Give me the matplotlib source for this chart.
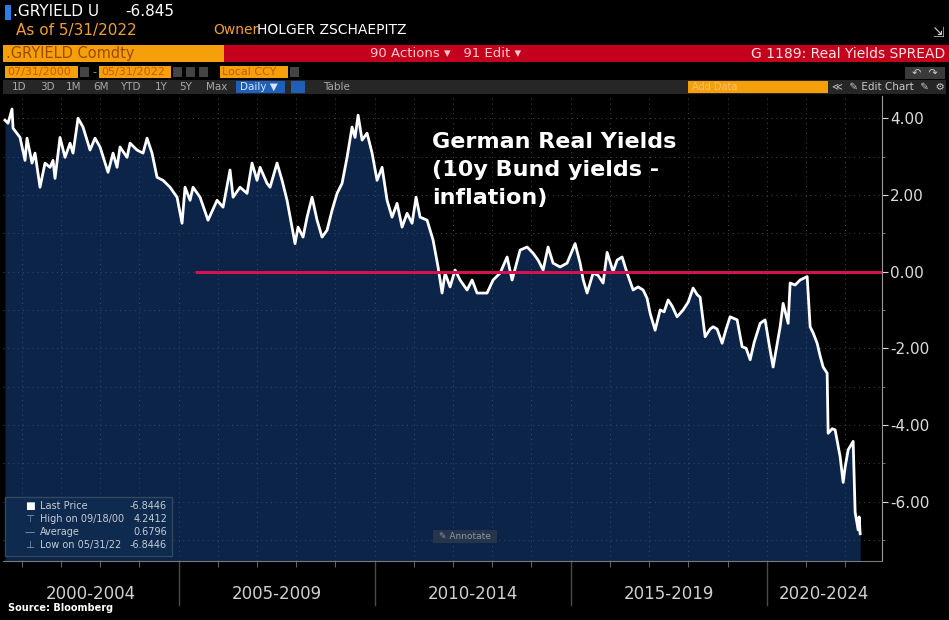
import matplotlib
matplotlib.use("Agg")
import matplotlib.pyplot as plt
import matplotlib.transforms as mtransforms
from matplotlib.patches import Rectangle

W, H = 949, 620

# German real yields (fractional year, %)
years = [2000.571, 2000.648, 2000.750, 2000.776, 2000.954, 2001.082, 2001.133, 2001.260, 2001.337, 2001.464,
         2001.592, 2001.719, 2001.796, 2001.847, 2001.974, 2002.102, 2002.230, 2002.306, 2002.434, 2002.561,
         2002.740, 2002.867, 2002.995, 2003.199, 2003.327, 2003.429, 2003.505, 2003.684, 2003.760, 2003.939,
         2004.092, 2004.194, 2004.321, 2004.449, 2004.602, 2004.781, 2004.959, 2005.087, 2005.163, 2005.291,
         2005.367, 2005.546, 2005.750, 2005.980, 2006.133, 2006.311, 2006.388, 2006.566, 2006.745, 2006.872,
         2007.000, 2007.077, 2007.255, 2007.332, 2007.510, 2007.638, 2007.765, 2007.893, 2007.969, 2008.046,
         2008.173, 2008.276, 2008.403, 2008.531, 2008.658, 2008.786, 2008.913, 2009.041, 2009.168, 2009.296,
         2009.423, 2009.500, 2009.577, 2009.679, 2009.806, 2009.934, 2010.061, 2010.189, 2010.316, 2010.444,
         2010.571, 2010.699, 2010.827, 2010.954, 2011.056, 2011.158, 2011.337, 2011.490, 2011.617, 2011.719,
         2011.796, 2011.923, 2012.051, 2012.179, 2012.357, 2012.485, 2012.612, 2012.867, 2013.020, 2013.199,
         2013.378, 2013.505, 2013.709, 2013.888, 2014.041, 2014.168, 2014.296, 2014.423, 2014.551, 2014.730,
         2014.908, 2015.112, 2015.240, 2015.316, 2015.418, 2015.571, 2015.699, 2015.827, 2015.929, 2016.082,
         2016.184, 2016.311, 2016.439, 2016.592, 2016.719, 2016.847, 2016.949, 2017.026, 2017.153, 2017.281,
         2017.383, 2017.485, 2017.587, 2017.714, 2017.867, 2017.995, 2018.122, 2018.224, 2018.301, 2018.429,
         2018.556, 2018.633, 2018.735, 2018.862, 2018.964, 2019.066, 2019.245, 2019.372, 2019.474, 2019.577,
         2019.679, 2019.832, 2019.959, 2020.061, 2020.163, 2020.265, 2020.342, 2020.418, 2020.546, 2020.597,
         2020.724, 2020.852, 2021.031, 2021.107, 2021.184, 2021.286, 2021.362, 2021.439, 2021.541, 2021.566,
         2021.668, 2021.745, 2021.872, 2021.949, 2022.000, 2022.077, 2022.204, 2022.255, 2022.332, 2022.357,
         2022.383]
values = [3.95, 3.87, 4.24, 3.74, 3.50, 2.90, 3.48, 2.83, 3.09, 2.20,
          2.83, 2.72, 2.90, 2.43, 3.50, 2.98, 3.35, 3.09, 4.00, 3.77,
          3.17, 3.48, 3.25, 2.59, 3.09, 2.72, 3.25, 2.98, 3.35, 3.17,
          3.09, 3.48, 3.09, 2.46, 2.38, 2.20, 1.94, 1.26, 2.20, 1.86,
          2.20, 1.94, 1.34, 1.86, 1.68, 2.65, 1.94, 2.20, 2.04, 2.83,
          2.38, 2.72, 2.30, 2.20, 2.83, 2.38, 1.86, 1.16, 0.73, 1.16,
          0.90, 1.42, 1.94, 1.34, 0.90, 1.08, 1.60, 2.04, 2.30, 2.98,
          3.77, 3.50, 4.08, 3.43, 3.61, 3.09, 2.38, 2.72, 1.86, 1.42,
          1.78, 1.16, 1.52, 1.26, 1.94, 1.42, 1.34, 0.82, 0.12, -0.56,
          -0.04, -0.40, 0.04, -0.22, -0.48, -0.22, -0.56, -0.56, -0.22, -0.04,
          0.38, -0.22, 0.56, 0.64, 0.48, 0.30, 0.04, 0.64, 0.22, 0.12,
          0.22, 0.73, 0.22, -0.20, -0.56, -0.04, -0.10, -0.30, 0.50, 0.00,
          0.30, 0.38, -0.04, -0.48, -0.40, -0.48, -0.70, -1.09, -1.53, -1.00,
          -1.05, -0.74, -0.90, -1.18, -1.00, -0.80, -0.43, -0.60, -0.67, -1.70,
          -1.50, -1.44, -1.50, -1.87, -1.50, -1.18, -1.26, -1.96, -2.00, -2.30,
          -1.85, -1.35, -1.26, -1.90, -2.49, -1.90, -1.44, -0.83, -1.35, -0.30,
          -0.35, -0.22, -0.13, -1.44, -1.60, -1.87, -2.20, -2.49, -2.65, -4.22,
          -4.10, -4.13, -4.83, -5.50, -5.10, -4.65, -4.43, -6.28, -6.74, -6.40,
          -6.84]

y_ticks = [4, 2, 0, -2, -4, -6]
period_labels = ["2000-2004", "2005-2009", "2010-2014", "2015-2019", "2020-2024"]
period_starts = [2000, 2005, 2010, 2015, 2020]
last_price = -6.8446
legend_rows = [("\u25a0", "Last Price", "-6.8446"),
               ("\u22a4", "High on 09/18/00", "4.2412"),
               ("\u2014", "Average", "0.6796"),
               ("\u22a5", "Low on 05/31/22", "-6.8446")]

navy = "#0b2447"
hdr_font = ["Liberation Sans Narrow", "DejaVu Sans"]


def fx(x):
    return x / W


def fy(y):
    return 1 - y / H


def box(x, y, w, h, color, ec="none"):
    # rectangle in screen pixels (top-left corner x, y)
    fig.add_artist(Rectangle((fx(x), fy(y + h)), w / W, h / H, transform=fig.transFigure,
                             fc=color, ec=ec))


fig = plt.figure(figsize=(W / 100, H / 100), dpi=100, facecolor="black")

# ---- chart area ----
ax = fig.add_axes([fx(3), fy(561), fx(882) - fx(3), fy(96) - fy(561)])
ax.set_facecolor("black")
x0, x1 = 2000.52, 2022.94
y0, y1 = -7.55, 4.58
ax.set_xlim(x0, x1)
ax.set_ylim(y0, y1)

ax.fill_between(years, values, y0, color=navy, lw=0, zorder=1)
ax.plot(years, values, color="white", lw=2.0, zorder=3)
ax.hlines(0, 2005.42, x1, color="#d4124f", lw=2.2, zorder=4)

# dotted grid
for yv in range(-7, 5):
    ax.axhline(yv, color="#3a4a5e", lw=0.7, ls=(0, (1, 4)), zorder=2)
for yr in range(2001, 2023):
    ax.axvline(yr, color="#3a4a5e", lw=0.7, ls=(0, (1, 4)), zorder=2)

for s in ["top", "left"]:
    ax.spines[s].set_visible(False)
ax.spines["right"].set_color("#9a9a9a")
ax.spines["bottom"].set_color("#7a7a7a")

ax.yaxis.tick_right()
ax.set_yticks(y_ticks)
ax.set_yticklabels(["%.2f" % v for v in y_ticks], color="#dcdcdc", fontsize=11)
ax.set_yticks(range(-7, 5, 2), minor=True)
ax.tick_params(axis="y", which="major", length=4, color="#dcdcdc", direction="out", pad=2)
ax.tick_params(axis="y", which="minor", length=2, color="#888888", direction="out",
               labelright=False, labelleft=False)

ax.set_xticks([])
ax.set_xticks(range(2001, 2023), minor=True)
ax.tick_params(axis="x", which="both", length=4, color="#777777", direction="out",
               labelbottom=False, labeltop=False)

trans = mtransforms.blended_transform_factory(ax.transData, ax.transAxes)
for yr in period_starts[1:]:
    ax.plot([yr, yr], [0, -0.095], color="#4a4a4a", lw=1, transform=trans, clip_on=False)
bounds = period_starts + [x1]
for i, lab in enumerate(period_labels):
    lo = max(bounds[i], x0)
    hi = bounds[i + 1]
    ax.text((lo + hi) / 2, -0.07, lab, transform=trans, ha="center", va="center",
            color="#d0d0d0", fontsize=12, family=hdr_font)

# last price tag
ax.annotate("%.4f" % last_price, xy=(1.0, last_price), xycoords=trans,
            xytext=(1.012, last_price), textcoords=trans, va="center", ha="left",
            fontsize=10.5, color="#222222",
            bbox=dict(boxstyle="larrow,pad=0.15", fc="white", ec="white"))

# title in chart
fig.text(fx(432), fy(170), "German Real Yields\n(10y Bund yields -\ninflation)", color="white",
         fontsize=16, fontweight="bold", va="center", ha="left", linespacing=1.5)

# legend box
box(5, 497, 167, 59, "#0e2a4f", ec="#35485f")
for i, (sym, name, val) in enumerate(legend_rows):
    yy = 506 + i * 13
    fig.text(fx(30), fy(yy), sym, color="white" if i == 0 else "#8d99a8", fontsize=7.5,
             va="center", ha="center")
    fig.text(fx(40), fy(yy), name, color="#c8ccd2", fontsize=7, va="center")
    fig.text(fx(167), fy(yy), val, color="#c8ccd2", fontsize=7, va="center", ha="right")

# annotate button
box(433, 530, 64, 13, "#27354b")
fig.text(fx(465), fy(536.5), "\u270e Annotate", color="#8a94a2", fontsize=6.5,
         va="center", ha="center")

# ---- Bloomberg header ----
box(5, 5, 6, 15, "#2b7de9")
fig.text(fx(13), fy(12), ".GRYIELD U", color="white", fontsize=11, va="center", family=hdr_font)
fig.text(fx(125), fy(12), "-6.845", color="white", fontsize=11, va="center", family=hdr_font)
fig.text(fx(16), fy(30), "As of 5/31/2022", color="#f0a030", fontsize=11, va="center",
         family=hdr_font)
fig.text(fx(213), fy(30), "Owner", color="#f0a030", fontsize=10, va="center", family=hdr_font)
fig.text(fx(257), fy(30), "HOLGER ZSCHAEPITZ", color="white", fontsize=10, va="center",
         family=hdr_font)
fig.text(fx(944), fy(33), "\u21f2", color="#cccccc", fontsize=10, va="center", ha="right")

box(3, 45, 221, 17, "#f5a00a")
box(224, 45, 725, 17, "#c5001c")
fig.text(fx(6), fy(53.5), ".GRYIELD Comdty", color="#9a4a00", fontsize=10.5, va="center",
         family=hdr_font)
fig.text(fx(370), fy(53.5), "90 Actions \u25be   91 Edit \u25be", color="#f6c9cf", fontsize=9.5,
         va="center", family=hdr_font)
fig.text(fx(945), fy(53.5), "G 1189: Real Yields SPREAD", color="#fbe3e6", fontsize=10,
         va="center", ha="right", family=hdr_font)

# date row
for a, b, t in [(5, 78, "07/31/2000"), (99, 171, "05/31/2022"), (220, 288, "Local CCY")]:
    box(a, 66, b - a, 12, "#f5a00a")
    fig.text(fx(a + 2), fy(72), t, color="#c45c00", fontsize=8, va="center", family=hdr_font)
for a in [80, 173, 186, 199, 290]:
    box(a, 67, 9, 10, "#444444")
fig.text(fx(92), fy(72), "-", color="#aaaaaa", fontsize=8, va="center")
box(905, 67, 40, 12, "#3a3a3a")
fig.text(fx(912), fy(73), "\u21b6  \u21b7", color="#cccccc", fontsize=8, va="center")

# toolbar row
box(3, 80, 943, 14, "#262626")
for t, xx in [("1D", 12), ("3D", 40), ("1M", 66), ("6M", 93), ("YTD", 120), ("1Y", 155),
              ("5Y", 179), ("Max", 206)]:
    fig.text(fx(xx), fy(87), t, color="#a8a8a8", fontsize=7.5, va="center", family=hdr_font)
box(236, 81, 49, 12, "#1f5fb8")
fig.text(fx(240), fy(87), "Daily \u25bc", color="#d8e6ff", fontsize=7.5, va="center",
         family=hdr_font)
box(291, 81, 14, 12, "#1f5fb8")
fig.text(fx(323), fy(87), "Table", color="#a8a8a8", fontsize=7.5, va="center", family=hdr_font)
box(688, 81, 140, 12, "#f5a00a")
fig.text(fx(692), fy(87), "Add Data", color="#f8c070", fontsize=7, va="center",
         family=hdr_font)
fig.text(fx(945), fy(87), "\u226a  \u270e Edit Chart  \u270e  \u2699", color="#c8c8c8",
         fontsize=7.5, va="center", ha="right")

fig.text(fx(8), fy(608), "Source: Bloomberg", color="white", fontsize=7, fontweight="bold",
         va="center", family=hdr_font)

fig.savefig("out.png", dpi=100, facecolor="black")
